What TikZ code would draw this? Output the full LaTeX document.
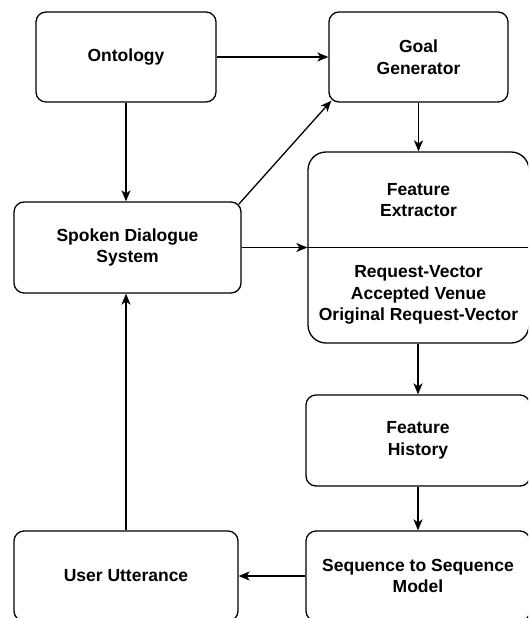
\documentclass[tikz,border=0pt]{standalone}
\usepackage{fontspec}
\setmainfont{Liberation Sans}
\usetikzlibrary{arrows.meta,calc}
\begin{document}
\begin{tikzpicture}[x=1pt,y=1pt,
  box/.style={draw=black,line width=1.3pt,rounded corners=10pt,align=center,inner sep=0pt,
    font=\fontsize{17.5}{21.5}\selectfont\bfseries},
  lbl/.style={align=center,inner sep=0pt,font=\fontsize{17.5}{21.5}\selectfont\bfseries},
  conn/.style={line width=1.3pt,-{Stealth[length=11pt,width=9pt,inset=3pt]}}]
\useasboundingbox (0,0) rectangle (528,-618);
\clip (0,0) rectangle (528,-618);
\node[box,minimum width=180pt,minimum height=90pt] (ont) at (126,-57) {Ontology};
\node[box,minimum width=179pt,minimum height=90pt] (goal) at (418.5,-57) {Goal\\Generator};
\node[box,minimum width=227pt,minimum height=91pt] (sds) at (127.5,-247.5) {Spoken Dialogue\\System};
\node[box,rounded corners=18pt,minimum width=221pt,minimum height=191pt] (fe) at (418.5,-247.5) {};
\draw[line width=1.3pt] (fe.west) -- (fe.east);
\node[lbl] (fet) at (418.5,-200) {Feature\\Extractor};
\node[lbl] (feb) at (418.5,-295) {Request-Vector\\Accepted Venue\\Original Request-Vector};
\node[box,minimum width=224pt,minimum height=91pt] (fh) at (418,-440.5) {Feature\\History};
\node[box,minimum width=224pt,minimum height=90pt] (seq) at (418,-576) {Sequence to Sequence\\Model};
\node[box,minimum width=224pt,minimum height=90pt] (uu) at (126,-576) {User Utterance};
\draw[conn] (ont.east) -- (goal.west);
\draw[conn] (ont.south) -- (ont.south |- sds.north);
\draw[conn] (goal.south) -- (goal.south |- fe.north);
\draw[conn] ($(sds.north east)+(-3,-3)$) -- ($(goal.south west)+(3,2)$);
\draw[conn] (sds.east) -- (fe.west);
\draw[conn] (fe.south -| fh.north) -- (fh.north);
\draw[conn] (fh.south) -- (seq.north);
\draw[conn] (seq.west) -- (uu.east);
\draw[conn] (uu.north -| ont.south) -- (sds.south -| ont.south);
\end{tikzpicture}
\end{document}
